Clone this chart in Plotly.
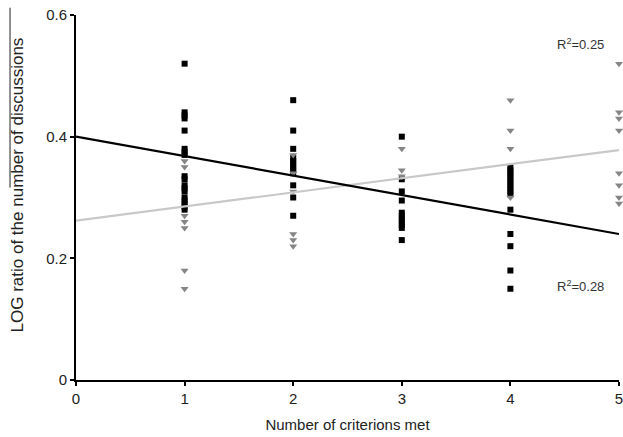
import plotly.graph_objects as go

# ---- data ----
criteria = [1, 2, 3, 4, 5]

# black squares (series with decreasing trend, R2=0.28)
sq_1 = [0.52, 0.44, 0.435, 0.43, 0.41, 0.38, 0.375, 0.37, 0.335, 0.33, 0.32, 0.315, 0.31, 0.30, 0.295, 0.29, 0.285, 0.28]
sq_2 = [0.46, 0.41, 0.38, 0.365, 0.36, 0.355, 0.35, 0.345, 0.34, 0.32, 0.30, 0.27]
sq_3 = [0.40, 0.33, 0.31, 0.295, 0.275, 0.27, 0.265, 0.26, 0.255, 0.25, 0.23]
sq_4 = [0.35, 0.345, 0.34, 0.335, 0.33, 0.325, 0.32, 0.315, 0.31, 0.305, 0.28, 0.24, 0.22, 0.18, 0.15]
sq_5 = []

# gray triangles (series with increasing trend, R2=0.25)
tri_1 = [0.36, 0.35, 0.27, 0.26, 0.25, 0.18, 0.15]
tri_2 = [0.37, 0.34, 0.31, 0.24, 0.23, 0.22]
tri_3 = [0.38, 0.345, 0.335]
tri_4 = [0.46, 0.41, 0.38, 0.30]
tri_5 = [0.52, 0.44, 0.43, 0.41, 0.34, 0.32, 0.30, 0.29]

# linear trend lines (endpoints at x = 0 and x = 5)
trend_x = [0, 5]
trend_black = [0.40, 0.24]
trend_gray = [0.262, 0.378]

r2_labels = ["R<sup>2</sup>=0.25", "R<sup>2</sup>=0.28"]
r2_pos_x = [4.65, 4.65]
r2_pos_y = [0.553, 0.155]

x_ticks = [0, 1, 2, 3, 4, 5]
y_ticks = [0, 0.2, 0.4, 0.6]
y_tick_text = ["0", "0.2", "0.4", "0.6"]

y_title_main = "LOG ratio of the "
y_title_over = "number of discussions"

# ---- build ----
sq_groups = [sq_1, sq_2, sq_3, sq_4, sq_5]
tri_groups = [tri_1, tri_2, tri_3, tri_4, tri_5]
sq_x, sq_y, tri_x, tri_y = [], [], [], []
for c, g in zip(criteria, sq_groups):
    sq_x += [c] * len(g)
    sq_y += g
for c, g in zip(criteria, tri_groups):
    tri_x += [c] * len(g)
    tri_y += g

FONT = "Liberation Sans, Arial, sans-serif"

fig = go.Figure()
fig.add_trace(go.Scatter(x=sq_x, y=sq_y, mode="markers",
                         marker=dict(symbol="square", size=6, color="black"),
                         cliponaxis=False, showlegend=False))
fig.add_trace(go.Scatter(x=tri_x, y=tri_y, mode="markers",
                         marker=dict(symbol="triangle-down", size=7, color="#858585"),
                         cliponaxis=False, showlegend=False))
fig.add_trace(go.Scatter(x=trend_x, y=trend_gray, mode="lines",
                         line=dict(color="#c8c8c8", width=2.2), showlegend=False))
fig.add_trace(go.Scatter(x=trend_x, y=trend_black, mode="lines",
                         line=dict(color="black", width=2.2), showlegend=False))

for t, ax_, ay_ in zip(r2_labels, r2_pos_x, r2_pos_y):
    fig.add_annotation(x=ax_, y=ay_, text=t, showarrow=False,
                       font=dict(family=FONT, size=13, color="#333333"))

# y-axis title (rotated) with an overline above "number of discussions"
fig.add_annotation(xref="paper", yref="paper", x=-0.108, y=0.534,
                   xanchor="center", yanchor="middle", textangle=-90,
                   text=y_title_main + y_title_over, showarrow=False,
                   font=dict(family=FONT, size=17, color="#222222"))
fig.add_shape(type="line", xref="paper", yref="paper",
              x0=-0.1215, x1=-0.1215, y0=0.527, y1=1.02,
              line=dict(color="#222222", width=1))

fig.update_layout(
    width=623, height=437,
    margin=dict(l=76, r=4, t=15, b=57, autoexpand=False),
    paper_bgcolor="white", plot_bgcolor="white",
    font=dict(family=FONT, color="#222222"),
    xaxis=dict(range=[0, 5], tickvals=x_ticks, showgrid=False, zeroline=False,
               showline=True, linecolor="black", linewidth=2,
               ticks="outside", ticklen=4, tickwidth=1.5, tickcolor="black",
               ticklabeloverflow="allow", automargin=False,
               tickfont=dict(size=15, family=FONT, color="#222222"),
               title=dict(text="Number of criterions met", standoff=13,
                          font=dict(size=15, family=FONT, color="#222222"))),
    yaxis=dict(range=[0, 0.6], tickvals=y_ticks, ticktext=y_tick_text,
               showgrid=False, zeroline=False, automargin=False,
               showline=True, linecolor="black", linewidth=2,
               ticks="outside", ticklen=4, tickwidth=1.5, tickcolor="black",
               tickfont=dict(size=15, family=FONT, color="#222222")),
)

fig.write_html("out.html")
